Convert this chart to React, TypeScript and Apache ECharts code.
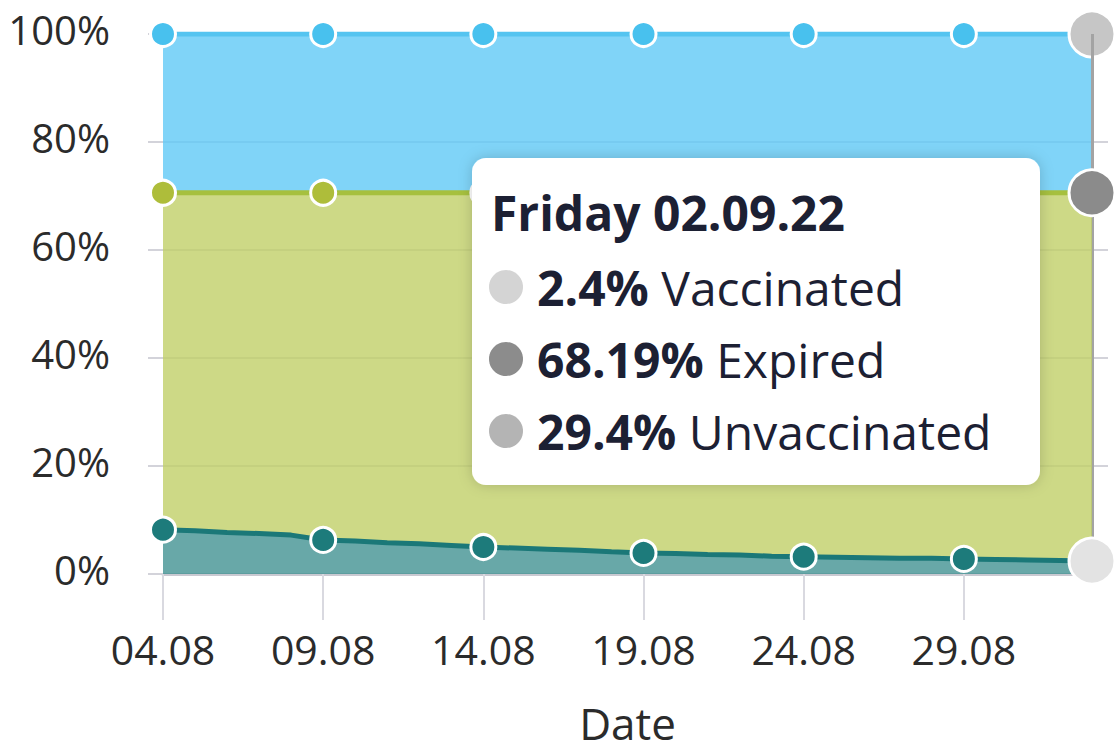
import React, { useEffect, useRef } from "react";
import * as echarts from "echarts";

const dates = [
  "04.08", "05.08", "06.08", "07.08", "08.08", "09.08", "10.08", "11.08", "12.08", "13.08",
  "14.08", "15.08", "16.08", "17.08", "18.08", "19.08", "20.08", "21.08", "22.08", "23.08",
  "24.08", "25.08", "26.08", "27.08", "28.08", "29.08", "30.08", "31.08", "01.09", "02.09",
];
const vaccinated = [
  8.2, 8.0, 7.7, 7.5, 7.2, 6.3, 6.1, 5.8, 5.6, 5.3,
  5.0, 4.8, 4.6, 4.4, 4.1, 3.9, 3.8, 3.6, 3.5, 3.3,
  3.2, 3.1, 3.0, 2.9, 2.9, 2.8, 2.7, 2.6, 2.5, 2.4,
];
const expired = [
  62.4, 62.6, 62.9, 63.1, 63.4, 64.3, 64.5, 64.8, 65.0, 65.3,
  65.6, 65.8, 66.0, 66.2, 66.5, 66.7, 66.8, 67.0, 67.1, 67.3,
  67.4, 67.5, 67.6, 67.7, 67.7, 67.8, 67.9, 68.0, 68.1, 68.19,
];
const unvaccinated = [
  29.4, 29.4, 29.4, 29.4, 29.4, 29.4, 29.4, 29.4, 29.4, 29.4,
  29.4, 29.4, 29.4, 29.4, 29.4, 29.4, 29.4, 29.4, 29.4, 29.4,
  29.4, 29.4, 29.4, 29.4, 29.4, 29.4, 29.4, 29.4, 29.4, 29.4,
];
const seriesNames = ["Vaccinated", "Expired", "Unvaccinated"];
const tooltipTitle = "Friday 02.09.22";
const tooltipValues = ["2.4%", "68.19%", "29.4%"];
const axisName = "Date";

const FONT = "'Open Sans', 'Noto Sans', sans-serif";
const lineColors = ["#1b7878", "#a6c03e", "#55c4f0"];
const markerColors = ["#1d7b7b", "#aebd3a", "#48c1ee"];
const areaColors = ["rgba(66,146,146,0.8)", "rgba(193,208,104,0.8)", "rgba(96,201,246,0.8)"];
const hoverColors = ["#e3e3e3", "#8b8b8b", "#c6c6c6"];
const tipDotColors = ["#d4d4d4", "#8c8c8c", "#b4b4b4"];

export default function App() {
  const ref = useRef<HTMLDivElement>(null);
  useEffect(() => {
    document.body.style.margin = "0";
    if (!ref.current) return;
    const chart = echarts.init(ref.current, undefined, { renderer: "svg" });
    const last = dates.length - 1;
    const all = [vaccinated, expired, unvaccinated];

    const series: any[] = all.map((arr, si) => ({
      name: seriesNames[si],
      type: "line",
      stack: "total",
      showSymbol: true,
      showAllSymbol: true,
      symbol: "circle",
      symbolSize: (_v: any, p: any) =>
        p.dataIndex === last ? 46 : p.dataIndex % 5 === 0 ? 25 : 0,
      lineStyle: { color: lineColors[si], width: 5 },
      areaStyle: { color: areaColors[si], opacity: 1 },
      itemStyle: { color: markerColors[si], borderColor: "#ffffff", borderWidth: 3 },
      emphasis: { disabled: true },
      data: arr.map((v, i) =>
        i === last ? { value: v, itemStyle: { color: hoverColors[si] } } : v
      ),
      z: 6 - si,
    }));
    series[0].markLine = {
      silent: true,
      symbol: ["none", "none"],
      label: { show: false },
      lineStyle: { color: "#a3a3a3", width: 3, type: "solid" },
      data: [{ xAxis: last }],
    };

    const tipX = 472;
    const tipY = 158;
    const rowYs = [287, 359, 431];
    const Z = 100;
    const TIP_FONT = 48;
    const graphicChildren: any[] = [
      {
        type: "rect",
        z: Z,
        shape: { x: tipX, y: tipY, width: 568, height: 327, r: 14 },
        style: { fill: "#ffffff", shadowBlur: 14, shadowColor: "rgba(0,0,0,0.18)" },
      },
      {
        type: "text",
        z: Z + 1,
        x: 491,
        y: 212,
        style: {
          text: tooltipTitle,
          font: `bold ${TIP_FONT}px ${FONT}`,
          fill: "#1c2033",
          verticalAlign: "middle",
        },
      },
    ];
    seriesNames.forEach((name, i) => {
      graphicChildren.push({
        type: "circle",
        z: Z + 1,
        shape: { cx: 506, cy: rowYs[i], r: 17 },
        style: { fill: tipDotColors[i] },
      });
      graphicChildren.push({
        type: "text",
        z: Z + 1,
        x: 537,
        y: rowYs[i],
        style: {
          text: `{b|${tooltipValues[i]}}{r| ${name}}`,
          verticalAlign: "middle",
          rich: {
            b: { font: `bold ${TIP_FONT}px ${FONT}`, fill: "#1c2033" },
            r: { font: `${TIP_FONT}px ${FONT}`, fill: "#1c2033" },
          },
        },
      });
    });

    chart.setOption({
      animation: false,
      grid: {
        left: 163,
        right: 28,
        top: 34,
        bottom: 179,
        containLabel: false,
        outerBoundsMode: "none",
      },
      xAxis: {
        type: "category",
        boundaryGap: false,
        data: dates,
        name: axisName,
        nameLocation: "middle",
        nameGap: 129,
        nameTextStyle: { fontFamily: FONT, fontSize: 44, lineHeight: 40, color: "#2b2b2b" },
        axisLine: { show: true, lineStyle: { color: "#c9c9d1", width: 3 } },
        axisTick: { show: true, interval: 4, length: 46, lineStyle: { color: "#d9d9e0", width: 2 } },
        axisLabel: { interval: 4, margin: 54, fontFamily: FONT, fontSize: 41, color: "#2b2b2b" },
        splitLine: { show: false },
      },
      yAxis: [
        {
          type: "value",
          min: 0,
          max: 100,
          interval: 20,
          axisLine: { show: false },
          axisTick: { show: true, length: 15, lineStyle: { color: "#d3d3da", width: 2 } },
          axisLabel: {
            formatter: "{value}%",
            margin: 53,
            verticalAlign: "bottom",
            lineHeight: 10,
            fontFamily: FONT,
            fontSize: 40,
            color: "#2b2b2b",
          },
          splitLine: { show: true, lineStyle: { color: "#d3d3da", width: 2 } },
        },
        {
          type: "value",
          position: "right",
          min: 0,
          max: 100,
          interval: 20,
          axisLine: { show: false },
          axisTick: { show: true, length: 16, lineStyle: { color: "#d3d3da", width: 2 } },
          axisLabel: { show: false },
          splitLine: { show: false },
        },
      ],
      series,
      graphic: [{ type: "group", z: Z, children: graphicChildren }],
    });
    return () => chart.dispose();
  }, []);
  return <div ref={ref} style={{ width: 1120, height: 753 }} />;
}
